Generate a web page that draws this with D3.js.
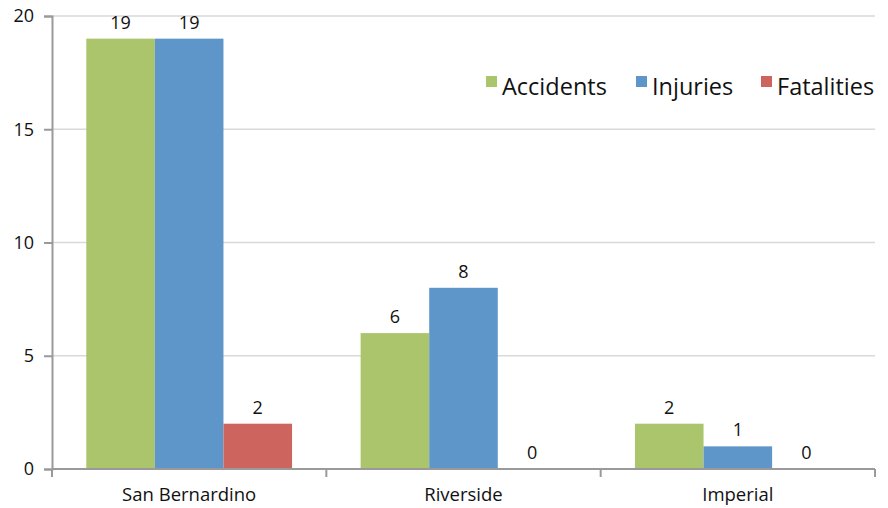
<!DOCTYPE html>
<html><head><meta charset="utf-8">
<script src="https://cdn.jsdelivr.net/npm/d3@7"></script>
<style>body{margin:0;background:#fff}svg{display:block}text{font-family:"Open Sans","Noto Sans",sans-serif;fill:#111}</style>
</head><body><svg id="c" width="888" height="508"></svg>
<script>
const categories = ["San Bernardino", "Riverside", "Imperial"];
const seriesNames = ["Accidents", "Injuries", "Fatalities"];
const accidents = [19, 6, 2];
const injuries = [19, 8, 1];
const fatalities = [2, 0, 0];
const yTicks = [0, 5, 10, 15, 20];
const colors = ["#abc56c", "#5f96ca", "#cd645d"];

const seriesValues = [accidents, injuries, fatalities];
const svg = d3.select("#c");
const m = {l: 52, r: 875, t: 16, b: 469};
const x0 = d3.scaleBand().domain(categories).range([m.l, m.r]).paddingInner(0).paddingOuter(0);
const x1 = d3.scaleBand().domain(seriesNames).range([0, x0.bandwidth()]).paddingInner(0).paddingOuter(0.5);
const y = d3.scaleLinear().domain([0, 20]).range([m.b, m.t]);

// grid
svg.append("g").selectAll("line").data(yTicks.filter(d => d > 0)).join("line")
  .attr("x1", m.l).attr("x2", m.r).attr("y1", d => y(d)).attr("y2", d => y(d))
  .attr("stroke", "#d9d9d9").attr("stroke-width", 1.5);

// bars
const data = [];
categories.forEach((c, i) => seriesNames.forEach((s, j) => data.push({c, s, v: seriesValues[j][i], j})));
svg.append("g").selectAll("rect").data(data).join("rect")
  .attr("x", d => x0(d.c) + x1(d.s)).attr("width", x1.bandwidth())
  .attr("y", d => y(d.v)).attr("height", d => y(0) - y(d.v))
  .attr("fill", d => colors[d.j]);

svg.append("g").selectAll("text").data(data).join("text")
  .attr("x", d => x0(d.c) + x1(d.s) + x1.bandwidth() / 2)
  .attr("y", d => y(d.v) - 10).attr("text-anchor", "middle")
  .attr("font-size", 18).text(d => d.v);

// axes
const yAxis = d3.axisLeft(y).tickValues(yTicks).tickSize(8).tickPadding(10);
const gy = svg.append("g").attr("transform", `translate(${m.l},0)`).call(yAxis);
gy.select(".domain").attr("stroke", "#9a9a9a").attr("stroke-width", 2);
gy.selectAll(".tick line").attr("stroke", "#9a9a9a").attr("stroke-width", 2);
gy.selectAll("text").attr("font-size", 18).attr("fill", "#111").style("font-family", '"Open Sans",sans-serif');

const xAxis = d3.axisBottom(x0).tickSize(0).tickPadding(19);
const gx = svg.append("g").attr("transform", `translate(0,${m.b})`).call(xAxis);
gx.select(".domain").attr("stroke", "#9a9a9a").attr("stroke-width", 2).attr("d", `M${m.l},0H${m.r}`);
gx.selectAll("text").attr("font-size", 18.5).attr("fill", "#111").style("font-family", '"Open Sans",sans-serif');
const bounds = categories.map(c => x0(c)).concat([m.r]);
gx.append("g").selectAll("line").data(bounds).join("line")
  .attr("x1", d => d).attr("x2", d => d).attr("y1", 0).attr("y2", 8)
  .attr("stroke", "#9a9a9a").attr("stroke-width", 2);

// legend
const legX = [486, 636, 761];
const lg = svg.append("g").selectAll("g").data(seriesNames).join("g")
  .attr("transform", (d, i) => `translate(${legX[i]},76)`);
lg.append("rect").attr("width", 11).attr("height", 11).attr("fill", (d, i) => colors[i]);
lg.append("text").attr("x", 16).attr("y", 19).attr("font-size", 23.5).text(d => d);
</script></body></html>
